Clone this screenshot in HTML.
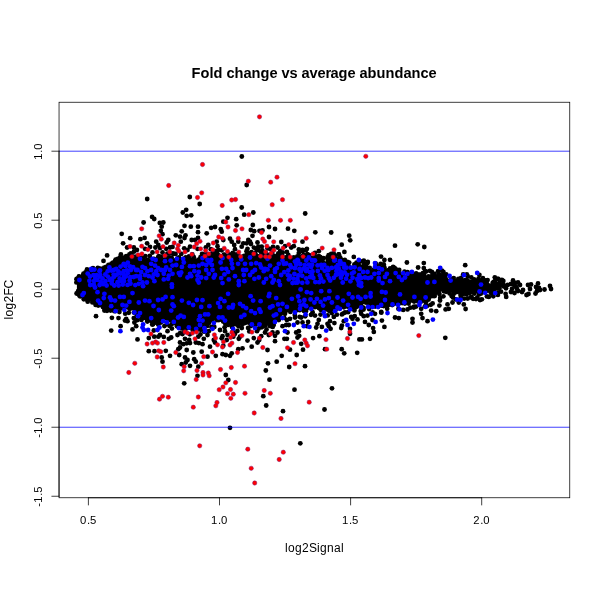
<!DOCTYPE html>
<html><head><meta charset="utf-8"><style>
html,body{margin:0;padding:0;background:#fff;width:600px;height:600px;overflow:hidden}
svg{display:block;will-change:transform}
text{font-family:"Liberation Sans", sans-serif;fill:#000}
</style></head><body>
<svg width="600" height="600" viewBox="0 0 600 600">
<rect x="0" y="0" width="600" height="600" fill="#fff"/>
<polygon points="76.9,283.0 78.0,279.0 82.5,274.4 88.1,270.6 97.5,268.3 105.0,267.1 112.5,263.4 117.5,258.9 122.5,257.4 127.5,255.3 135.0,256.5 140.0,260.4 146.2,260.4 151.2,259.8 157.5,257.2 163.8,258.5 170.0,258.5 176.2,257.9 182.5,258.5 190.0,257.2 197.5,258.5 205.0,256.0 217.5,252.2 222.5,254.8 235.0,253.5 241.2,258.5 247.5,253.5 253.8,252.2 260.0,254.8 266.2,252.2 275.0,258.5 280.0,253.5 290.0,258.5 297.5,256.0 302.5,253.5 310.0,256.0 318.8,256.0 322.5,264.8 327.5,259.8 332.5,256.0 340.0,257.2 343.8,264.8 350.0,267.2 355.0,268.5 360.0,264.8 365.0,263.5 372.5,269.8 380.0,267.2 385.0,271.0 392.5,269.8 397.5,273.5 403.8,274.8 412.5,273.5 417.5,272.2 422.5,272.2 427.5,276.0 435.0,274.8 438.8,273.5 442.5,274.8 447.5,278.5 453.8,281.0 457.5,278.5 462.5,278.5 467.5,277.2 471.2,281.0 480.0,278.5 487.5,282.2 492.5,284.8 496.2,282.2 502.5,283.5 510.0,286.0 510.0,284.5 507.5,285.5 502.5,286.8 497.5,289.2 491.2,291.8 485.0,293.0 478.8,294.2 472.5,291.8 466.2,293.6 460.0,294.2 453.8,293.0 447.5,292.4 442.5,290.5 438.8,293.5 430.0,299.5 425.0,303.0 417.5,301.8 410.0,303.0 402.5,304.2 395.0,304.2 387.5,308.0 380.0,306.8 372.5,306.8 365.0,303.0 360.0,307.5 355.0,310.5 347.5,308.0 340.0,309.2 332.5,313.0 325.0,310.5 317.5,308.0 310.0,309.2 303.8,311.8 297.5,310.5 290.0,311.8 285.0,313.5 280.0,316.8 275.0,321.8 268.8,325.5 262.5,323.0 256.2,325.5 250.0,325.5 243.8,323.0 237.5,326.8 228.8,325.5 222.5,323.0 216.2,319.2 210.0,323.5 205.0,328.0 197.5,330.5 190.0,329.2 185.0,331.8 178.8,328.0 172.5,324.2 166.2,319.2 160.0,323.0 153.8,325.5 146.2,320.5 140.0,319.2 135.0,312.5 132.5,309.5 125.0,309.1 116.2,310.1 110.0,308.3 102.5,307.9 97.5,306.0 91.2,301.9 85.0,298.8 80.0,297.0 76.9,292.0" fill="#000"/>
<g fill="#000"><circle cx="76.4" cy="282.4" r="2.4"/><circle cx="76.7" cy="279.3" r="2.4"/><circle cx="76.7" cy="279.0" r="2.4"/><circle cx="78.9" cy="276.8" r="2.4"/><circle cx="79.0" cy="276.5" r="2.4"/><circle cx="83.5" cy="273.7" r="2.4"/><circle cx="82.9" cy="275.7" r="2.4"/><circle cx="85.5" cy="272.5" r="2.4"/><circle cx="86.7" cy="271.7" r="2.4"/><circle cx="87.0" cy="269.5" r="2.4"/><circle cx="90.7" cy="270.8" r="2.4"/><circle cx="91.5" cy="270.2" r="2.4"/><circle cx="94.0" cy="269.3" r="2.4"/><circle cx="93.0" cy="268.1" r="2.4"/><circle cx="98.0" cy="268.4" r="2.4"/><circle cx="97.8" cy="268.0" r="2.4"/><circle cx="100.6" cy="268.7" r="2.4"/><circle cx="104.2" cy="267.6" r="2.4"/><circle cx="106.1" cy="266.9" r="2.4"/><circle cx="108.1" cy="266.7" r="2.4"/><circle cx="108.5" cy="264.8" r="2.4"/><circle cx="111.5" cy="263.7" r="2.4"/><circle cx="113.0" cy="262.7" r="2.4"/><circle cx="115.2" cy="262.3" r="2.4"/><circle cx="115.6" cy="259.7" r="2.4"/><circle cx="117.7" cy="259.0" r="2.4"/><circle cx="123.8" cy="257.6" r="2.4"/><circle cx="126.2" cy="256.1" r="2.4"/><circle cx="132.7" cy="257.0" r="2.4"/><circle cx="130.9" cy="253.3" r="2.4"/><circle cx="133.6" cy="256.7" r="2.4"/><circle cx="133.9" cy="251.7" r="2.4"/><circle cx="138.3" cy="257.8" r="2.4"/><circle cx="137.2" cy="256.1" r="2.4"/><circle cx="138.7" cy="260.5" r="2.4"/><circle cx="141.2" cy="257.9" r="2.4"/><circle cx="144.2" cy="260.1" r="2.4"/><circle cx="142.7" cy="258.1" r="2.4"/><circle cx="147.6" cy="259.8" r="2.4"/><circle cx="145.4" cy="256.1" r="2.4"/><circle cx="151.2" cy="260.2" r="2.4"/><circle cx="149.8" cy="256.0" r="2.4"/><circle cx="154.0" cy="258.9" r="2.4"/><circle cx="158.1" cy="257.5" r="2.4"/><circle cx="161.2" cy="257.0" r="2.4"/><circle cx="164.6" cy="259.7" r="2.4"/><circle cx="166.6" cy="258.5" r="2.4"/><circle cx="167.3" cy="253.7" r="2.4"/><circle cx="168.7" cy="258.0" r="2.4"/><circle cx="169.5" cy="253.7" r="2.4"/><circle cx="171.6" cy="257.6" r="2.4"/><circle cx="172.7" cy="253.3" r="2.4"/><circle cx="177.4" cy="258.4" r="2.4"/><circle cx="175.5" cy="253.9" r="2.4"/><circle cx="179.0" cy="257.5" r="2.4"/><circle cx="184.0" cy="258.7" r="2.4"/><circle cx="181.3" cy="253.8" r="2.4"/><circle cx="185.8" cy="257.5" r="2.4"/><circle cx="189.0" cy="256.3" r="2.4"/><circle cx="193.8" cy="257.2" r="2.4"/><circle cx="192.3" cy="254.5" r="2.4"/><circle cx="198.9" cy="259.7" r="2.4"/><circle cx="200.5" cy="257.2" r="2.4"/><circle cx="202.1" cy="253.8" r="2.4"/><circle cx="205.8" cy="255.8" r="2.4"/><circle cx="205.9" cy="254.0" r="2.4"/><circle cx="209.2" cy="256.1" r="2.4"/><circle cx="212.0" cy="253.7" r="2.4"/><circle cx="210.8" cy="249.2" r="2.4"/><circle cx="213.0" cy="252.9" r="2.4"/><circle cx="215.0" cy="251.1" r="2.4"/><circle cx="217.3" cy="253.6" r="2.4"/><circle cx="223.9" cy="254.7" r="2.4"/><circle cx="221.7" cy="250.3" r="2.4"/><circle cx="224.7" cy="255.0" r="2.4"/><circle cx="229.8" cy="254.3" r="2.4"/><circle cx="232.8" cy="253.0" r="2.4"/><circle cx="236.2" cy="254.5" r="2.4"/><circle cx="238.1" cy="255.4" r="2.4"/><circle cx="240.7" cy="259.5" r="2.4"/><circle cx="244.1" cy="256.0" r="2.4"/><circle cx="248.2" cy="252.9" r="2.4"/><circle cx="246.5" cy="251.2" r="2.4"/><circle cx="251.5" cy="252.2" r="2.4"/><circle cx="255.2" cy="252.9" r="2.4"/><circle cx="253.9" cy="247.6" r="2.4"/><circle cx="255.4" cy="254.9" r="2.4"/><circle cx="260.1" cy="256.1" r="2.4"/><circle cx="261.1" cy="252.2" r="2.4"/><circle cx="262.3" cy="253.1" r="2.4"/><circle cx="262.3" cy="250.3" r="2.4"/><circle cx="265.5" cy="252.3" r="2.4"/><circle cx="267.5" cy="248.3" r="2.4"/><circle cx="269.0" cy="254.8" r="2.4"/><circle cx="271.8" cy="257.7" r="2.4"/><circle cx="272.2" cy="253.0" r="2.4"/><circle cx="273.6" cy="258.6" r="2.4"/><circle cx="273.5" cy="255.9" r="2.4"/><circle cx="276.5" cy="256.2" r="2.4"/><circle cx="280.2" cy="253.3" r="2.4"/><circle cx="280.2" cy="250.9" r="2.4"/><circle cx="282.2" cy="255.6" r="2.4"/><circle cx="282.7" cy="252.5" r="2.4"/><circle cx="286.7" cy="257.2" r="2.4"/><circle cx="291.2" cy="258.6" r="2.4"/><circle cx="293.8" cy="257.5" r="2.4"/><circle cx="297.4" cy="256.3" r="2.4"/><circle cx="298.8" cy="253.1" r="2.4"/><circle cx="303.6" cy="254.9" r="2.4"/><circle cx="302.7" cy="251.3" r="2.4"/><circle cx="307.3" cy="254.1" r="2.4"/><circle cx="306.1" cy="250.0" r="2.4"/><circle cx="309.2" cy="255.2" r="2.4"/><circle cx="315.2" cy="257.2" r="2.4"/><circle cx="315.0" cy="253.0" r="2.4"/><circle cx="317.7" cy="257.2" r="2.4"/><circle cx="319.2" cy="260.3" r="2.4"/><circle cx="320.0" cy="256.9" r="2.4"/><circle cx="322.2" cy="261.2" r="2.4"/><circle cx="321.3" cy="257.9" r="2.4"/><circle cx="321.6" cy="264.5" r="2.4"/><circle cx="323.6" cy="262.6" r="2.4"/><circle cx="323.6" cy="258.2" r="2.4"/><circle cx="327.9" cy="260.0" r="2.4"/><circle cx="329.0" cy="257.1" r="2.4"/><circle cx="331.4" cy="257.1" r="2.4"/><circle cx="328.6" cy="255.2" r="2.4"/><circle cx="331.8" cy="255.3" r="2.4"/><circle cx="333.7" cy="253.5" r="2.4"/><circle cx="335.5" cy="256.0" r="2.4"/><circle cx="340.2" cy="258.0" r="2.4"/><circle cx="338.7" cy="254.3" r="2.4"/><circle cx="341.7" cy="260.2" r="2.4"/><circle cx="344.2" cy="265.8" r="2.4"/><circle cx="344.8" cy="259.9" r="2.4"/><circle cx="348.0" cy="266.1" r="2.4"/><circle cx="347.0" cy="263.8" r="2.4"/><circle cx="349.3" cy="266.6" r="2.4"/><circle cx="349.2" cy="262.6" r="2.4"/><circle cx="354.0" cy="267.6" r="2.4"/><circle cx="354.4" cy="264.4" r="2.4"/><circle cx="358.3" cy="266.3" r="2.4"/><circle cx="356.5" cy="262.7" r="2.4"/><circle cx="358.6" cy="264.4" r="2.4"/><circle cx="360.7" cy="261.4" r="2.4"/><circle cx="364.1" cy="263.7" r="2.4"/><circle cx="366.3" cy="266.6" r="2.4"/><circle cx="367.5" cy="263.1" r="2.4"/><circle cx="369.7" cy="267.9" r="2.4"/><circle cx="373.9" cy="269.6" r="2.4"/><circle cx="376.9" cy="269.1" r="2.4"/><circle cx="375.8" cy="263.7" r="2.4"/><circle cx="378.9" cy="266.4" r="2.4"/><circle cx="381.8" cy="268.5" r="2.4"/><circle cx="383.5" cy="266.7" r="2.4"/><circle cx="385.5" cy="270.7" r="2.4"/><circle cx="384.4" cy="267.4" r="2.4"/><circle cx="387.7" cy="270.5" r="2.4"/><circle cx="390.1" cy="268.3" r="2.4"/><circle cx="392.6" cy="269.4" r="2.4"/><circle cx="394.4" cy="271.5" r="2.4"/><circle cx="394.6" cy="268.0" r="2.4"/><circle cx="397.5" cy="273.0" r="2.4"/><circle cx="396.0" cy="269.3" r="2.4"/><circle cx="399.4" cy="274.1" r="2.4"/><circle cx="399.2" cy="270.0" r="2.4"/><circle cx="402.9" cy="275.2" r="2.4"/><circle cx="404.5" cy="271.7" r="2.4"/><circle cx="408.8" cy="275.3" r="2.4"/><circle cx="407.6" cy="272.1" r="2.4"/><circle cx="411.4" cy="274.3" r="2.4"/><circle cx="416.1" cy="273.3" r="2.4"/><circle cx="422.9" cy="273.1" r="2.4"/><circle cx="423.9" cy="274.4" r="2.4"/><circle cx="426.0" cy="271.5" r="2.4"/><circle cx="428.5" cy="276.5" r="2.4"/><circle cx="431.8" cy="276.1" r="2.4"/><circle cx="429.8" cy="270.8" r="2.4"/><circle cx="434.6" cy="274.0" r="2.4"/><circle cx="438.9" cy="274.1" r="2.4"/><circle cx="443.0" cy="275.0" r="2.4"/><circle cx="443.4" cy="272.0" r="2.4"/><circle cx="445.0" cy="277.0" r="2.4"/><circle cx="446.2" cy="279.3" r="2.4"/><circle cx="446.2" cy="274.3" r="2.4"/><circle cx="451.3" cy="279.3" r="2.4"/><circle cx="455.2" cy="281.2" r="2.4"/><circle cx="453.7" cy="278.1" r="2.4"/><circle cx="458.3" cy="279.0" r="2.4"/><circle cx="461.2" cy="277.9" r="2.4"/><circle cx="463.2" cy="274.4" r="2.4"/><circle cx="467.7" cy="276.3" r="2.4"/><circle cx="466.8" cy="274.3" r="2.4"/><circle cx="471.8" cy="281.7" r="2.4"/><circle cx="471.3" cy="277.4" r="2.4"/><circle cx="474.1" cy="279.5" r="2.4"/><circle cx="476.2" cy="280.8" r="2.4"/><circle cx="478.6" cy="278.6" r="2.4"/><circle cx="485.2" cy="280.5" r="2.4"/><circle cx="482.9" cy="278.2" r="2.4"/><circle cx="486.6" cy="282.7" r="2.4"/><circle cx="487.6" cy="280.1" r="2.4"/><circle cx="491.4" cy="285.8" r="2.4"/><circle cx="493.7" cy="281.9" r="2.4"/><circle cx="495.4" cy="283.5" r="2.4"/><circle cx="494.8" cy="277.3" r="2.4"/><circle cx="499.4" cy="283.0" r="2.4"/><circle cx="498.3" cy="278.9" r="2.4"/><circle cx="501.9" cy="284.6" r="2.4"/><circle cx="503.3" cy="281.0" r="2.4"/><circle cx="505.1" cy="286.1" r="2.4"/><circle cx="78.1" cy="291.2" r="2.4"/><circle cx="76.6" cy="293.5" r="2.4"/><circle cx="80.3" cy="296.4" r="2.4"/><circle cx="79.3" cy="295.6" r="2.4"/><circle cx="83.8" cy="299.3" r="2.4"/><circle cx="86.3" cy="298.0" r="2.4"/><circle cx="87.4" cy="300.1" r="2.4"/><circle cx="87.7" cy="301.7" r="2.4"/><circle cx="92.4" cy="302.4" r="2.4"/><circle cx="95.6" cy="304.9" r="2.4"/><circle cx="95.0" cy="302.7" r="2.4"/><circle cx="98.2" cy="305.6" r="2.4"/><circle cx="102.9" cy="307.1" r="2.4"/><circle cx="103.8" cy="307.6" r="2.4"/><circle cx="106.2" cy="307.5" r="2.4"/><circle cx="107.0" cy="310.8" r="2.4"/><circle cx="109.3" cy="308.5" r="2.4"/><circle cx="110.2" cy="309.7" r="2.4"/><circle cx="112.1" cy="308.1" r="2.4"/><circle cx="114.3" cy="311.2" r="2.4"/><circle cx="115.4" cy="310.9" r="2.4"/><circle cx="120.5" cy="308.5" r="2.4"/><circle cx="119.4" cy="312.0" r="2.4"/><circle cx="123.8" cy="308.2" r="2.4"/><circle cx="125.2" cy="313.7" r="2.4"/><circle cx="129.5" cy="308.9" r="2.4"/><circle cx="128.8" cy="312.8" r="2.4"/><circle cx="132.0" cy="308.2" r="2.4"/><circle cx="133.9" cy="312.6" r="2.4"/><circle cx="135.0" cy="312.6" r="2.4"/><circle cx="136.6" cy="315.1" r="2.4"/><circle cx="137.2" cy="320.2" r="2.4"/><circle cx="141.4" cy="319.9" r="2.4"/><circle cx="141.7" cy="318.5" r="2.4"/><circle cx="147.4" cy="320.2" r="2.4"/><circle cx="147.3" cy="321.6" r="2.4"/><circle cx="152.2" cy="324.5" r="2.4"/><circle cx="153.0" cy="324.3" r="2.4"/><circle cx="153.8" cy="330.5" r="2.4"/><circle cx="158.2" cy="324.6" r="2.4"/><circle cx="160.8" cy="322.6" r="2.4"/><circle cx="161.7" cy="321.6" r="2.4"/><circle cx="164.4" cy="326.1" r="2.4"/><circle cx="165.7" cy="318.1" r="2.4"/><circle cx="166.7" cy="324.3" r="2.4"/><circle cx="168.2" cy="320.4" r="2.4"/><circle cx="169.6" cy="325.9" r="2.4"/><circle cx="171.7" cy="324.3" r="2.4"/><circle cx="171.9" cy="328.6" r="2.4"/><circle cx="177.0" cy="326.2" r="2.4"/><circle cx="178.7" cy="327.1" r="2.4"/><circle cx="180.1" cy="333.1" r="2.4"/><circle cx="181.3" cy="328.4" r="2.4"/><circle cx="182.4" cy="334.1" r="2.4"/><circle cx="184.3" cy="331.9" r="2.4"/><circle cx="189.2" cy="327.8" r="2.4"/><circle cx="189.8" cy="334.3" r="2.4"/><circle cx="192.8" cy="330.4" r="2.4"/><circle cx="197.5" cy="329.5" r="2.4"/><circle cx="200.7" cy="329.8" r="2.4"/><circle cx="200.4" cy="334.5" r="2.4"/><circle cx="204.4" cy="328.9" r="2.4"/><circle cx="204.1" cy="331.7" r="2.4"/><circle cx="207.3" cy="325.9" r="2.4"/><circle cx="208.9" cy="323.0" r="2.4"/><circle cx="211.4" cy="326.9" r="2.4"/><circle cx="211.8" cy="320.0" r="2.4"/><circle cx="214.3" cy="327.0" r="2.4"/><circle cx="216.9" cy="320.2" r="2.4"/><circle cx="218.9" cy="320.1" r="2.4"/><circle cx="223.2" cy="321.6" r="2.4"/><circle cx="225.3" cy="323.7" r="2.4"/><circle cx="224.6" cy="327.3" r="2.4"/><circle cx="228.1" cy="324.9" r="2.4"/><circle cx="232.0" cy="327.0" r="2.4"/><circle cx="232.7" cy="331.6" r="2.4"/><circle cx="238.5" cy="326.3" r="2.4"/><circle cx="237.4" cy="330.9" r="2.4"/><circle cx="241.9" cy="323.9" r="2.4"/><circle cx="241.8" cy="328.0" r="2.4"/><circle cx="243.5" cy="323.5" r="2.4"/><circle cx="245.5" cy="322.8" r="2.4"/><circle cx="248.1" cy="328.0" r="2.4"/><circle cx="250.7" cy="326.2" r="2.4"/><circle cx="249.3" cy="331.4" r="2.4"/><circle cx="253.5" cy="324.7" r="2.4"/><circle cx="255.7" cy="324.7" r="2.4"/><circle cx="257.0" cy="331.2" r="2.4"/><circle cx="259.8" cy="325.1" r="2.4"/><circle cx="258.6" cy="328.7" r="2.4"/><circle cx="263.9" cy="323.9" r="2.4"/><circle cx="261.8" cy="327.3" r="2.4"/><circle cx="265.6" cy="325.1" r="2.4"/><circle cx="266.5" cy="329.5" r="2.4"/><circle cx="269.7" cy="325.9" r="2.4"/><circle cx="271.4" cy="322.9" r="2.4"/><circle cx="272.7" cy="326.9" r="2.4"/><circle cx="274.1" cy="322.1" r="2.4"/><circle cx="273.7" cy="324.9" r="2.4"/><circle cx="277.7" cy="318.6" r="2.4"/><circle cx="281.2" cy="317.7" r="2.4"/><circle cx="278.8" cy="320.0" r="2.4"/><circle cx="285.0" cy="313.8" r="2.4"/><circle cx="284.2" cy="317.8" r="2.4"/><circle cx="290.4" cy="311.9" r="2.4"/><circle cx="294.8" cy="311.3" r="2.4"/><circle cx="294.8" cy="315.0" r="2.4"/><circle cx="297.7" cy="309.9" r="2.4"/><circle cx="299.7" cy="310.2" r="2.4"/><circle cx="299.6" cy="316.8" r="2.4"/><circle cx="304.0" cy="311.1" r="2.4"/><circle cx="305.2" cy="316.3" r="2.4"/><circle cx="306.1" cy="311.0" r="2.4"/><circle cx="311.5" cy="308.0" r="2.4"/><circle cx="311.0" cy="314.8" r="2.4"/><circle cx="315.0" cy="307.2" r="2.4"/><circle cx="312.6" cy="312.2" r="2.4"/><circle cx="318.9" cy="308.0" r="2.4"/><circle cx="320.9" cy="309.9" r="2.4"/><circle cx="320.5" cy="314.6" r="2.4"/><circle cx="326.3" cy="309.3" r="2.4"/><circle cx="329.1" cy="310.8" r="2.4"/><circle cx="327.7" cy="315.4" r="2.4"/><circle cx="331.8" cy="313.0" r="2.4"/><circle cx="335.4" cy="309.7" r="2.4"/><circle cx="336.8" cy="314.7" r="2.4"/><circle cx="339.4" cy="308.3" r="2.4"/><circle cx="343.9" cy="307.3" r="2.4"/><circle cx="343.4" cy="313.3" r="2.4"/><circle cx="347.9" cy="306.7" r="2.4"/><circle cx="348.1" cy="312.2" r="2.4"/><circle cx="350.6" cy="308.5" r="2.4"/><circle cx="354.4" cy="310.4" r="2.4"/><circle cx="354.7" cy="316.1" r="2.4"/><circle cx="361.5" cy="306.9" r="2.4"/><circle cx="360.7" cy="311.1" r="2.4"/><circle cx="361.0" cy="306.0" r="2.4"/><circle cx="363.5" cy="309.5" r="2.4"/><circle cx="366.1" cy="302.7" r="2.4"/><circle cx="363.5" cy="307.7" r="2.4"/><circle cx="369.2" cy="305.6" r="2.4"/><circle cx="369.1" cy="309.0" r="2.4"/><circle cx="372.5" cy="305.6" r="2.4"/><circle cx="372.6" cy="312.5" r="2.4"/><circle cx="375.1" cy="306.5" r="2.4"/><circle cx="381.4" cy="305.7" r="2.4"/><circle cx="381.3" cy="312.7" r="2.4"/><circle cx="383.7" cy="306.0" r="2.4"/><circle cx="387.2" cy="308.8" r="2.4"/><circle cx="392.2" cy="305.0" r="2.4"/><circle cx="394.2" cy="303.8" r="2.4"/><circle cx="399.7" cy="303.2" r="2.4"/><circle cx="398.4" cy="308.8" r="2.4"/><circle cx="402.2" cy="303.1" r="2.4"/><circle cx="403.2" cy="309.9" r="2.4"/><circle cx="404.9" cy="303.5" r="2.4"/><circle cx="408.6" cy="303.6" r="2.4"/><circle cx="410.3" cy="307.7" r="2.4"/><circle cx="414.1" cy="301.6" r="2.4"/><circle cx="414.0" cy="306.7" r="2.4"/><circle cx="418.0" cy="301.4" r="2.4"/><circle cx="416.1" cy="306.6" r="2.4"/><circle cx="421.2" cy="301.5" r="2.4"/><circle cx="425.8" cy="302.6" r="2.4"/><circle cx="424.9" cy="306.3" r="2.4"/><circle cx="426.4" cy="300.8" r="2.4"/><circle cx="427.3" cy="305.8" r="2.4"/><circle cx="428.6" cy="299.6" r="2.4"/><circle cx="430.7" cy="304.8" r="2.4"/><circle cx="433.0" cy="296.1" r="2.4"/><circle cx="432.6" cy="303.4" r="2.4"/><circle cx="434.7" cy="296.1" r="2.4"/><circle cx="439.4" cy="294.0" r="2.4"/><circle cx="440.2" cy="298.0" r="2.4"/><circle cx="443.9" cy="291.3" r="2.4"/><circle cx="443.4" cy="296.3" r="2.4"/><circle cx="446.2" cy="291.8" r="2.4"/><circle cx="449.6" cy="293.4" r="2.4"/><circle cx="451.6" cy="296.1" r="2.4"/><circle cx="453.8" cy="293.8" r="2.4"/><circle cx="453.0" cy="297.5" r="2.4"/><circle cx="456.3" cy="292.2" r="2.4"/><circle cx="455.9" cy="299.4" r="2.4"/><circle cx="460.5" cy="295.0" r="2.4"/><circle cx="460.9" cy="297.6" r="2.4"/><circle cx="463.2" cy="294.0" r="2.4"/><circle cx="464.2" cy="298.6" r="2.4"/><circle cx="466.5" cy="294.3" r="2.4"/><circle cx="467.7" cy="298.5" r="2.4"/><circle cx="469.1" cy="293.2" r="2.4"/><circle cx="470.8" cy="297.4" r="2.4"/><circle cx="472.1" cy="292.2" r="2.4"/><circle cx="471.5" cy="297.0" r="2.4"/><circle cx="474.3" cy="293.5" r="2.4"/><circle cx="476.0" cy="299.0" r="2.4"/><circle cx="479.0" cy="294.4" r="2.4"/><circle cx="477.3" cy="297.4" r="2.4"/><circle cx="480.8" cy="293.7" r="2.4"/><circle cx="481.9" cy="299.3" r="2.4"/><circle cx="483.9" cy="292.1" r="2.4"/><circle cx="486.7" cy="290.9" r="2.4"/><circle cx="486.9" cy="296.4" r="2.4"/><circle cx="490.4" cy="291.7" r="2.4"/><circle cx="493.5" cy="290.6" r="2.4"/><circle cx="493.3" cy="296.3" r="2.4"/><circle cx="496.7" cy="288.1" r="2.4"/><circle cx="497.9" cy="294.9" r="2.4"/><circle cx="503.3" cy="286.3" r="2.4"/><circle cx="501.0" cy="291.7" r="2.4"/><circle cx="507.7" cy="284.9" r="2.4"/></g>
<g fill="#000"><circle cx="241.8" cy="156.5" r="2.4"/><circle cx="147.2" cy="199.0" r="2.4"/><circle cx="189.8" cy="197.0" r="2.4"/><circle cx="199.7" cy="204.0" r="2.4"/><circle cx="186.2" cy="209.8" r="2.4"/><circle cx="246.7" cy="185.0" r="2.4"/><circle cx="395.0" cy="245.7" r="2.4"/><circle cx="417.7" cy="244.3" r="2.4"/><circle cx="424.3" cy="247.0" r="2.4"/><circle cx="305.2" cy="213.5" r="2.4"/><circle cx="288.0" cy="228.7" r="2.4"/><circle cx="294.3" cy="230.8" r="2.4"/><circle cx="315.3" cy="232.3" r="2.4"/><circle cx="331.2" cy="232.5" r="2.4"/><circle cx="349.2" cy="235.7" r="2.4"/><circle cx="350.2" cy="240.3" r="2.4"/><circle cx="302.5" cy="241.7" r="2.4"/><circle cx="281.3" cy="242.0" r="2.4"/><circle cx="341.7" cy="244.7" r="2.4"/><circle cx="152.1" cy="216.9" r="2.4"/><circle cx="154.2" cy="219.0" r="2.4"/><circle cx="143.6" cy="222.5" r="2.4"/><circle cx="159.8" cy="222.9" r="2.4"/><circle cx="121.7" cy="233.8" r="2.4"/><circle cx="130.2" cy="238.2" r="2.4"/><circle cx="140.4" cy="239.2" r="2.4"/><circle cx="144.6" cy="237.9" r="2.4"/><circle cx="123.1" cy="243.3" r="2.4"/><circle cx="147.1" cy="243.3" r="2.4"/><circle cx="133.8" cy="247.5" r="2.4"/><circle cx="127.1" cy="247.5" r="2.4"/><circle cx="156.2" cy="241.7" r="2.4"/><circle cx="155.4" cy="247.5" r="2.4"/><circle cx="158.3" cy="245.0" r="2.4"/><circle cx="182.8" cy="212.5" r="2.4"/><circle cx="186.7" cy="215.8" r="2.4"/><circle cx="191.2" cy="215.3" r="2.4"/><circle cx="241.7" cy="207.5" r="2.4"/><circle cx="244.2" cy="214.7" r="2.4"/><circle cx="253.3" cy="212.5" r="2.4"/><circle cx="227.5" cy="217.8" r="2.4"/><circle cx="236.2" cy="219.2" r="2.4"/><circle cx="223.3" cy="221.7" r="2.4"/><circle cx="236.7" cy="225.3" r="2.4"/><circle cx="252.8" cy="225.0" r="2.4"/><circle cx="184.5" cy="225.8" r="2.4"/><circle cx="190.8" cy="226.7" r="2.4"/><circle cx="198.0" cy="226.7" r="2.4"/><circle cx="211.2" cy="227.8" r="2.4"/><circle cx="215.0" cy="227.0" r="2.4"/><circle cx="220.8" cy="229.2" r="2.4"/><circle cx="221.7" cy="231.7" r="2.4"/><circle cx="250.8" cy="230.0" r="2.4"/><circle cx="254.2" cy="231.2" r="2.4"/><circle cx="259.5" cy="230.8" r="2.4"/><circle cx="163.3" cy="222.5" r="2.4"/><circle cx="161.7" cy="226.7" r="2.4"/><circle cx="160.8" cy="230.8" r="2.4"/><circle cx="162.5" cy="234.2" r="2.4"/><circle cx="181.7" cy="231.3" r="2.4"/><circle cx="198.0" cy="232.2" r="2.4"/><circle cx="206.7" cy="233.3" r="2.4"/><circle cx="175.8" cy="235.3" r="2.4"/><circle cx="180.0" cy="236.7" r="2.4"/><circle cx="185.5" cy="235.3" r="2.4"/><circle cx="184.5" cy="238.0" r="2.4"/><circle cx="198.0" cy="238.0" r="2.4"/><circle cx="230.0" cy="238.7" r="2.4"/><circle cx="252.5" cy="235.8" r="2.4"/><circle cx="248.3" cy="240.0" r="2.4"/><circle cx="257.5" cy="242.5" r="2.4"/><circle cx="168.3" cy="240.0" r="2.4"/><circle cx="191.7" cy="240.0" r="2.4"/><circle cx="195.0" cy="240.0" r="2.4"/><circle cx="180.8" cy="241.7" r="2.4"/><circle cx="166.7" cy="242.5" r="2.4"/><circle cx="216.7" cy="241.7" r="2.4"/><circle cx="231.7" cy="241.7" r="2.4"/><circle cx="234.2" cy="245.0" r="2.4"/><circle cx="243.3" cy="243.3" r="2.4"/><circle cx="246.7" cy="243.3" r="2.4"/><circle cx="258.3" cy="246.7" r="2.4"/><circle cx="208.3" cy="245.0" r="2.4"/><circle cx="205.8" cy="247.5" r="2.4"/><circle cx="190.0" cy="246.7" r="2.4"/><circle cx="184.2" cy="248.3" r="2.4"/><circle cx="170.0" cy="247.5" r="2.4"/><circle cx="107.1" cy="255.4" r="2.4"/><circle cx="103.5" cy="260.9" r="2.4"/><circle cx="120.9" cy="254.4" r="2.4"/><circle cx="120.0" cy="257.5" r="2.4"/><circle cx="126.2" cy="257.1" r="2.4"/><circle cx="129.4" cy="254.4" r="2.4"/><circle cx="115.0" cy="261.2" r="2.4"/><circle cx="150.0" cy="246.9" r="2.4"/><circle cx="160.0" cy="248.1" r="2.4"/><circle cx="166.2" cy="248.8" r="2.4"/><circle cx="172.5" cy="246.9" r="2.4"/><circle cx="187.5" cy="250.0" r="2.4"/><circle cx="197.5" cy="248.8" r="2.4"/><circle cx="136.9" cy="250.0" r="2.4"/><circle cx="145.0" cy="248.8" r="2.4"/><circle cx="152.5" cy="252.5" r="2.4"/><circle cx="158.8" cy="256.2" r="2.4"/><circle cx="162.5" cy="252.5" r="2.4"/><circle cx="173.8" cy="253.8" r="2.4"/><circle cx="217.5" cy="246.2" r="2.4"/><circle cx="247.5" cy="248.8" r="2.4"/><circle cx="256.2" cy="248.8" r="2.4"/><circle cx="277.5" cy="247.5" r="2.4"/><circle cx="270.0" cy="248.8" r="2.4"/><circle cx="285.0" cy="246.2" r="2.4"/><circle cx="286.9" cy="251.9" r="2.4"/><circle cx="291.2" cy="247.5" r="2.4"/><circle cx="293.8" cy="246.2" r="2.4"/><circle cx="298.8" cy="249.4" r="2.4"/><circle cx="302.5" cy="250.0" r="2.4"/><circle cx="306.9" cy="248.8" r="2.4"/><circle cx="318.8" cy="251.2" r="2.4"/><circle cx="318.8" cy="256.2" r="2.4"/><circle cx="327.5" cy="257.5" r="2.4"/><circle cx="331.2" cy="253.8" r="2.4"/><circle cx="338.8" cy="254.4" r="2.4"/><circle cx="340.0" cy="257.5" r="2.4"/><circle cx="344.4" cy="251.9" r="2.4"/><circle cx="353.8" cy="256.9" r="2.4"/><circle cx="347.5" cy="261.9" r="2.4"/><circle cx="381.0" cy="256.6" r="2.4"/><circle cx="384.4" cy="260.0" r="2.4"/><circle cx="390.0" cy="259.8" r="2.4"/><circle cx="367.8" cy="261.9" r="2.4"/><circle cx="406.9" cy="262.5" r="2.4"/><circle cx="423.8" cy="263.1" r="2.4"/><circle cx="418.1" cy="267.5" r="2.4"/><circle cx="423.8" cy="268.1" r="2.4"/><circle cx="425.0" cy="271.2" r="2.4"/><circle cx="431.9" cy="271.9" r="2.4"/><circle cx="393.1" cy="266.9" r="2.4"/><circle cx="383.8" cy="264.4" r="2.4"/><circle cx="380.6" cy="263.8" r="2.4"/><circle cx="363.8" cy="260.6" r="2.4"/><circle cx="465.2" cy="265.2" r="2.4"/><circle cx="441.9" cy="270.6" r="2.4"/><circle cx="438.1" cy="271.2" r="2.4"/><circle cx="479.4" cy="275.0" r="2.4"/><circle cx="497.5" cy="278.8" r="2.4"/><circle cx="501.9" cy="280.0" r="2.4"/><circle cx="513.0" cy="280.5" r="2.4"/><circle cx="511.0" cy="284.0" r="2.4"/><circle cx="515.0" cy="283.0" r="2.4"/><circle cx="518.0" cy="282.5" r="2.4"/><circle cx="520.0" cy="285.0" r="2.4"/><circle cx="516.0" cy="287.0" r="2.4"/><circle cx="512.0" cy="289.0" r="2.4"/><circle cx="514.5" cy="293.0" r="2.4"/><circle cx="518.0" cy="291.0" r="2.4"/><circle cx="523.0" cy="290.0" r="2.4"/><circle cx="522.0" cy="292.0" r="2.4"/><circle cx="528.0" cy="285.0" r="2.4"/><circle cx="531.0" cy="284.5" r="2.4"/><circle cx="530.0" cy="289.0" r="2.4"/><circle cx="526.5" cy="295.0" r="2.4"/><circle cx="528.5" cy="294.0" r="2.4"/><circle cx="538.0" cy="283.5" r="2.4"/><circle cx="536.0" cy="287.0" r="2.4"/><circle cx="539.0" cy="288.0" r="2.4"/><circle cx="537.0" cy="291.0" r="2.4"/><circle cx="535.5" cy="293.5" r="2.4"/><circle cx="540.0" cy="290.0" r="2.4"/><circle cx="544.5" cy="289.5" r="2.4"/><circle cx="550.0" cy="286.0" r="2.4"/><circle cx="551.0" cy="289.0" r="2.4"/><circle cx="514.0" cy="285.0" r="2.4"/><circle cx="517.0" cy="289.0" r="2.4"/><circle cx="511.0" cy="292.0" r="2.4"/><circle cx="83.8" cy="297.5" r="2.4"/><circle cx="92.5" cy="300.0" r="2.4"/><circle cx="104.4" cy="310.6" r="2.4"/><circle cx="110.6" cy="310.6" r="2.4"/><circle cx="96.0" cy="316.2" r="2.4"/><circle cx="111.9" cy="317.8" r="2.4"/><circle cx="118.5" cy="318.1" r="2.4"/><circle cx="126.2" cy="318.8" r="2.4"/><circle cx="127.5" cy="321.2" r="2.4"/><circle cx="125.0" cy="320.6" r="2.4"/><circle cx="133.8" cy="318.1" r="2.4"/><circle cx="134.4" cy="322.5" r="2.4"/><circle cx="120.6" cy="326.2" r="2.4"/><circle cx="111.2" cy="330.6" r="2.4"/><circle cx="132.5" cy="329.4" r="2.4"/><circle cx="137.5" cy="339.4" r="2.4"/><circle cx="148.8" cy="338.1" r="2.4"/><circle cx="160.0" cy="335.0" r="2.4"/><circle cx="163.8" cy="336.9" r="2.4"/><circle cx="168.8" cy="338.8" r="2.4"/><circle cx="171.2" cy="337.5" r="2.4"/><circle cx="177.5" cy="335.0" r="2.4"/><circle cx="180.0" cy="342.5" r="2.4"/><circle cx="185.0" cy="338.8" r="2.4"/><circle cx="190.0" cy="343.1" r="2.4"/><circle cx="198.8" cy="343.1" r="2.4"/><circle cx="203.8" cy="338.8" r="2.4"/><circle cx="207.5" cy="335.0" r="2.4"/><circle cx="208.8" cy="331.2" r="2.4"/><circle cx="136.2" cy="326.2" r="2.4"/><circle cx="167.5" cy="331.2" r="2.4"/><circle cx="212.5" cy="327.5" r="2.4"/><circle cx="220.0" cy="330.0" r="2.4"/><circle cx="225.0" cy="331.2" r="2.4"/><circle cx="227.5" cy="335.0" r="2.4"/><circle cx="222.5" cy="336.2" r="2.4"/><circle cx="235.0" cy="333.8" r="2.4"/><circle cx="238.8" cy="338.8" r="2.4"/><circle cx="247.5" cy="340.6" r="2.4"/><circle cx="253.8" cy="338.1" r="2.4"/><circle cx="257.5" cy="342.5" r="2.4"/><circle cx="261.2" cy="336.2" r="2.4"/><circle cx="265.0" cy="332.5" r="2.4"/><circle cx="268.8" cy="335.0" r="2.4"/><circle cx="272.5" cy="332.5" r="2.4"/><circle cx="277.5" cy="332.5" r="2.4"/><circle cx="275.0" cy="341.2" r="2.4"/><circle cx="282.5" cy="326.2" r="2.4"/><circle cx="284.4" cy="338.8" r="2.4"/><circle cx="213.8" cy="340.0" r="2.4"/><circle cx="263.8" cy="326.2" r="2.4"/><circle cx="271.2" cy="326.2" r="2.4"/><circle cx="286.9" cy="320.0" r="2.4"/><circle cx="286.2" cy="325.0" r="2.4"/><circle cx="290.0" cy="318.8" r="2.4"/><circle cx="295.0" cy="317.5" r="2.4"/><circle cx="297.5" cy="322.5" r="2.4"/><circle cx="301.2" cy="317.5" r="2.4"/><circle cx="302.5" cy="322.5" r="2.4"/><circle cx="288.8" cy="325.0" r="2.4"/><circle cx="296.2" cy="332.5" r="2.4"/><circle cx="298.8" cy="331.2" r="2.4"/><circle cx="297.5" cy="337.5" r="2.4"/><circle cx="286.9" cy="338.8" r="2.4"/><circle cx="287.5" cy="332.5" r="2.4"/><circle cx="301.2" cy="343.8" r="2.4"/><circle cx="308.1" cy="321.9" r="2.4"/><circle cx="306.9" cy="326.2" r="2.4"/><circle cx="315.0" cy="315.6" r="2.4"/><circle cx="318.8" cy="320.0" r="2.4"/><circle cx="317.5" cy="323.8" r="2.4"/><circle cx="316.2" cy="327.5" r="2.4"/><circle cx="321.9" cy="326.9" r="2.4"/><circle cx="313.1" cy="338.1" r="2.4"/><circle cx="319.4" cy="336.2" r="2.4"/><circle cx="327.5" cy="323.8" r="2.4"/><circle cx="330.0" cy="321.2" r="2.4"/><circle cx="334.4" cy="323.1" r="2.4"/><circle cx="330.6" cy="328.8" r="2.4"/><circle cx="328.8" cy="326.2" r="2.4"/><circle cx="333.8" cy="316.9" r="2.4"/><circle cx="341.9" cy="314.4" r="2.4"/><circle cx="345.0" cy="312.5" r="2.4"/><circle cx="351.2" cy="316.9" r="2.4"/><circle cx="352.5" cy="318.8" r="2.4"/><circle cx="357.5" cy="319.4" r="2.4"/><circle cx="343.8" cy="321.2" r="2.4"/><circle cx="341.2" cy="328.1" r="2.4"/><circle cx="341.9" cy="325.6" r="2.4"/><circle cx="350.0" cy="328.8" r="2.4"/><circle cx="350.0" cy="333.8" r="2.4"/><circle cx="359.4" cy="339.4" r="2.4"/><circle cx="361.2" cy="313.8" r="2.4"/><circle cx="363.8" cy="316.2" r="2.4"/><circle cx="367.5" cy="315.6" r="2.4"/><circle cx="375.0" cy="313.8" r="2.4"/><circle cx="381.2" cy="311.9" r="2.4"/><circle cx="365.0" cy="321.9" r="2.4"/><circle cx="368.8" cy="325.0" r="2.4"/><circle cx="372.5" cy="320.0" r="2.4"/><circle cx="373.1" cy="328.1" r="2.4"/><circle cx="373.8" cy="331.9" r="2.4"/><circle cx="381.9" cy="320.6" r="2.4"/><circle cx="384.4" cy="326.9" r="2.4"/><circle cx="395.0" cy="317.5" r="2.4"/><circle cx="398.8" cy="318.1" r="2.4"/><circle cx="407.5" cy="309.4" r="2.4"/><circle cx="412.5" cy="318.8" r="2.4"/><circle cx="412.5" cy="322.5" r="2.4"/><circle cx="413.8" cy="307.5" r="2.4"/><circle cx="421.2" cy="308.8" r="2.4"/><circle cx="421.2" cy="313.8" r="2.4"/><circle cx="422.5" cy="318.1" r="2.4"/><circle cx="427.5" cy="321.2" r="2.4"/><circle cx="431.2" cy="310.6" r="2.4"/><circle cx="361.9" cy="339.4" r="2.4"/><circle cx="370.0" cy="338.8" r="2.4"/><circle cx="440.0" cy="300.6" r="2.4"/><circle cx="439.4" cy="305.6" r="2.4"/><circle cx="436.2" cy="311.2" r="2.4"/><circle cx="447.5" cy="304.4" r="2.4"/><circle cx="445.6" cy="309.4" r="2.4"/><circle cx="448.8" cy="308.8" r="2.4"/><circle cx="452.5" cy="302.5" r="2.4"/><circle cx="458.8" cy="302.5" r="2.4"/><circle cx="463.8" cy="304.4" r="2.4"/><circle cx="465.6" cy="309.0" r="2.4"/><circle cx="473.1" cy="298.8" r="2.4"/><circle cx="480.0" cy="300.0" r="2.4"/><circle cx="488.8" cy="296.9" r="2.4"/><circle cx="505.6" cy="293.8" r="2.4"/><circle cx="506.2" cy="296.9" r="2.4"/><circle cx="495.3" cy="280.3" r="2.4"/><circle cx="492.7" cy="283.0" r="2.4"/><circle cx="498.0" cy="284.3" r="2.4"/><circle cx="491.3" cy="288.3" r="2.4"/><circle cx="494.0" cy="291.0" r="2.4"/><circle cx="499.3" cy="288.3" r="2.4"/><circle cx="503.3" cy="284.3" r="2.4"/><circle cx="506.0" cy="288.3" r="2.4"/><circle cx="491.3" cy="293.7" r="2.4"/><circle cx="498.0" cy="292.3" r="2.4"/><circle cx="154.2" cy="336.7" r="2.4"/><circle cx="148.8" cy="351.2" r="2.4"/><circle cx="154.5" cy="351.2" r="2.4"/><circle cx="158.3" cy="336.7" r="2.4"/><circle cx="183.3" cy="344.2" r="2.4"/><circle cx="186.7" cy="343.3" r="2.4"/><circle cx="189.2" cy="340.0" r="2.4"/><circle cx="195.8" cy="342.5" r="2.4"/><circle cx="198.3" cy="336.7" r="2.4"/><circle cx="202.5" cy="344.2" r="2.4"/><circle cx="210.0" cy="346.7" r="2.4"/><circle cx="215.0" cy="342.5" r="2.4"/><circle cx="221.7" cy="338.3" r="2.4"/><circle cx="226.7" cy="340.0" r="2.4"/><circle cx="223.3" cy="345.8" r="2.4"/><circle cx="233.3" cy="336.7" r="2.4"/><circle cx="240.0" cy="336.7" r="2.4"/><circle cx="251.7" cy="346.7" r="2.4"/><circle cx="259.2" cy="340.0" r="2.4"/><circle cx="165.8" cy="350.8" r="2.4"/><circle cx="170.0" cy="355.8" r="2.4"/><circle cx="179.2" cy="355.0" r="2.4"/><circle cx="178.3" cy="349.2" r="2.4"/><circle cx="180.0" cy="347.5" r="2.4"/><circle cx="186.7" cy="350.0" r="2.4"/><circle cx="193.3" cy="352.5" r="2.4"/><circle cx="201.7" cy="351.7" r="2.4"/><circle cx="207.5" cy="356.7" r="2.4"/><circle cx="215.8" cy="355.8" r="2.4"/><circle cx="222.5" cy="354.2" r="2.4"/><circle cx="225.8" cy="355.0" r="2.4"/><circle cx="230.0" cy="355.8" r="2.4"/><circle cx="231.7" cy="353.3" r="2.4"/><circle cx="238.3" cy="349.2" r="2.4"/><circle cx="242.5" cy="348.3" r="2.4"/><circle cx="161.7" cy="357.5" r="2.4"/><circle cx="162.5" cy="361.7" r="2.4"/><circle cx="185.0" cy="357.5" r="2.4"/><circle cx="187.5" cy="360.0" r="2.4"/><circle cx="185.8" cy="362.5" r="2.4"/><circle cx="181.7" cy="364.2" r="2.4"/><circle cx="190.0" cy="365.8" r="2.4"/><circle cx="194.2" cy="359.2" r="2.4"/><circle cx="195.8" cy="361.7" r="2.4"/><circle cx="198.3" cy="366.7" r="2.4"/><circle cx="197.5" cy="375.8" r="2.4"/><circle cx="225.8" cy="375.0" r="2.4"/><circle cx="228.3" cy="380.0" r="2.4"/><circle cx="184.2" cy="383.3" r="2.4"/><circle cx="275.0" cy="335.8" r="2.4"/><circle cx="299.2" cy="335.8" r="2.4"/><circle cx="303.0" cy="349.7" r="2.4"/><circle cx="267.5" cy="350.0" r="2.4"/><circle cx="290.0" cy="349.7" r="2.4"/><circle cx="281.7" cy="355.8" r="2.4"/><circle cx="296.7" cy="355.0" r="2.4"/><circle cx="276.7" cy="361.7" r="2.4"/><circle cx="268.0" cy="363.3" r="2.4"/><circle cx="289.2" cy="367.0" r="2.4"/><circle cx="305.0" cy="366.2" r="2.4"/><circle cx="265.8" cy="370.5" r="2.4"/><circle cx="269.5" cy="379.7" r="2.4"/><circle cx="294.5" cy="389.7" r="2.4"/><circle cx="332.0" cy="388.3" r="2.4"/><circle cx="341.7" cy="349.2" r="2.4"/><circle cx="344.2" cy="353.3" r="2.4"/><circle cx="357.2" cy="352.8" r="2.4"/><circle cx="325.0" cy="349.2" r="2.4"/><circle cx="445.3" cy="337.8" r="2.4"/><circle cx="230.0" cy="427.8" r="2.4"/><circle cx="263.3" cy="396.2" r="2.4"/><circle cx="266.2" cy="405.5" r="2.4"/><circle cx="283.0" cy="411.2" r="2.4"/><circle cx="324.5" cy="409.5" r="2.4"/><circle cx="300.3" cy="443.3" r="2.4"/><circle cx="269.0" cy="227.0" r="2.4"/><circle cx="275.0" cy="229.0" r="2.4"/><circle cx="262.5" cy="230.5" r="2.4"/><circle cx="269.0" cy="237.0" r="2.4"/><circle cx="251.0" cy="244.0" r="2.4"/><circle cx="273.0" cy="247.0" r="2.4"/><circle cx="218.3" cy="250.0" r="2.4"/><circle cx="235.0" cy="249.2" r="2.4"/><circle cx="241.7" cy="246.7" r="2.4"/><circle cx="250.0" cy="241.7" r="2.4"/><circle cx="258.3" cy="250.0" r="2.4"/><circle cx="261.7" cy="246.7" r="2.4"/><circle cx="215.0" cy="253.3" r="2.4"/><circle cx="233.3" cy="255.0" r="2.4"/><circle cx="246.7" cy="255.0" r="2.4"/><circle cx="278.3" cy="253.3" r="2.4"/><circle cx="288.3" cy="255.0" r="2.4"/><circle cx="223.3" cy="240.0" r="2.4"/><circle cx="238.3" cy="241.7" r="2.4"/></g>
<g fill="#0000ff"><circle cx="79.4" cy="280.0" r="2.4"/><circle cx="83.8" cy="293.1" r="2.4"/><circle cx="97.5" cy="292.2" r="2.4"/><circle cx="104.4" cy="293.8" r="2.4"/><circle cx="132.5" cy="293.1" r="2.4"/><circle cx="95.0" cy="287.5" r="2.4"/><circle cx="91.2" cy="269.0" r="2.4"/><circle cx="100.0" cy="270.4" r="2.4"/><circle cx="109.4" cy="267.5" r="2.4"/><circle cx="116.2" cy="268.8" r="2.4"/><circle cx="123.8" cy="263.8" r="2.4"/><circle cx="140.0" cy="258.8" r="2.4"/><circle cx="152.5" cy="258.8" r="2.4"/><circle cx="155.6" cy="260.0" r="2.4"/><circle cx="151.2" cy="263.8" r="2.4"/><circle cx="165.0" cy="261.2" r="2.4"/><circle cx="170.6" cy="260.6" r="2.4"/><circle cx="176.9" cy="258.8" r="2.4"/><circle cx="183.1" cy="258.8" r="2.4"/><circle cx="183.8" cy="262.5" r="2.4"/><circle cx="202.5" cy="258.1" r="2.4"/><circle cx="207.5" cy="260.0" r="2.4"/><circle cx="142.5" cy="266.9" r="2.4"/><circle cx="145.0" cy="268.1" r="2.4"/><circle cx="155.0" cy="265.6" r="2.4"/><circle cx="158.1" cy="268.1" r="2.4"/><circle cx="166.2" cy="267.5" r="2.4"/><circle cx="172.5" cy="265.6" r="2.4"/><circle cx="176.2" cy="265.0" r="2.4"/><circle cx="181.9" cy="266.9" r="2.4"/><circle cx="190.0" cy="266.2" r="2.4"/><circle cx="193.8" cy="266.2" r="2.4"/><circle cx="198.8" cy="265.6" r="2.4"/><circle cx="202.5" cy="263.8" r="2.4"/><circle cx="206.2" cy="265.0" r="2.4"/><circle cx="209.4" cy="262.5" r="2.4"/><circle cx="137.5" cy="270.0" r="2.4"/><circle cx="141.2" cy="271.9" r="2.4"/><circle cx="147.5" cy="271.2" r="2.4"/><circle cx="151.2" cy="270.0" r="2.4"/><circle cx="156.2" cy="271.2" r="2.4"/><circle cx="161.2" cy="270.0" r="2.4"/><circle cx="165.0" cy="270.0" r="2.4"/><circle cx="170.0" cy="270.0" r="2.4"/><circle cx="172.5" cy="273.8" r="2.4"/><circle cx="178.8" cy="273.1" r="2.4"/><circle cx="181.2" cy="272.5" r="2.4"/><circle cx="190.0" cy="273.8" r="2.4"/><circle cx="194.4" cy="271.2" r="2.4"/><circle cx="198.8" cy="271.9" r="2.4"/><circle cx="206.2" cy="270.0" r="2.4"/><circle cx="208.8" cy="273.8" r="2.4"/><circle cx="136.2" cy="276.2" r="2.4"/><circle cx="140.0" cy="276.2" r="2.4"/><circle cx="145.0" cy="275.0" r="2.4"/><circle cx="148.8" cy="276.2" r="2.4"/><circle cx="153.8" cy="274.4" r="2.4"/><circle cx="157.5" cy="275.0" r="2.4"/><circle cx="163.8" cy="273.8" r="2.4"/><circle cx="168.8" cy="275.6" r="2.4"/><circle cx="180.0" cy="275.0" r="2.4"/><circle cx="187.5" cy="277.5" r="2.4"/><circle cx="191.2" cy="276.2" r="2.4"/><circle cx="197.5" cy="275.6" r="2.4"/><circle cx="201.2" cy="277.5" r="2.4"/><circle cx="206.2" cy="278.1" r="2.4"/><circle cx="140.0" cy="278.8" r="2.4"/><circle cx="152.5" cy="277.5" r="2.4"/><circle cx="163.8" cy="279.4" r="2.4"/><circle cx="168.1" cy="278.8" r="2.4"/><circle cx="154.4" cy="281.2" r="2.4"/><circle cx="197.5" cy="280.0" r="2.4"/><circle cx="198.8" cy="282.5" r="2.4"/><circle cx="138.8" cy="283.8" r="2.4"/><circle cx="142.5" cy="282.5" r="2.4"/><circle cx="146.9" cy="282.5" r="2.4"/><circle cx="143.1" cy="286.2" r="2.4"/><circle cx="171.9" cy="284.4" r="2.4"/><circle cx="171.9" cy="286.9" r="2.4"/><circle cx="211.2" cy="260.0" r="2.4"/><circle cx="211.9" cy="265.0" r="2.4"/><circle cx="220.6" cy="262.5" r="2.4"/><circle cx="222.5" cy="258.1" r="2.4"/><circle cx="231.2" cy="260.0" r="2.4"/><circle cx="231.9" cy="263.8" r="2.4"/><circle cx="238.1" cy="263.8" r="2.4"/><circle cx="241.2" cy="259.4" r="2.4"/><circle cx="245.0" cy="263.8" r="2.4"/><circle cx="250.0" cy="257.5" r="2.4"/><circle cx="251.2" cy="263.8" r="2.4"/><circle cx="256.2" cy="263.1" r="2.4"/><circle cx="260.0" cy="264.4" r="2.4"/><circle cx="267.5" cy="258.8" r="2.4"/><circle cx="270.0" cy="265.6" r="2.4"/><circle cx="278.8" cy="263.8" r="2.4"/><circle cx="282.5" cy="260.6" r="2.4"/><circle cx="283.8" cy="263.8" r="2.4"/><circle cx="212.5" cy="270.0" r="2.4"/><circle cx="215.0" cy="275.0" r="2.4"/><circle cx="213.8" cy="277.5" r="2.4"/><circle cx="221.9" cy="268.8" r="2.4"/><circle cx="226.2" cy="268.8" r="2.4"/><circle cx="228.1" cy="271.9" r="2.4"/><circle cx="224.4" cy="274.4" r="2.4"/><circle cx="221.2" cy="278.1" r="2.4"/><circle cx="232.5" cy="268.1" r="2.4"/><circle cx="235.0" cy="276.2" r="2.4"/><circle cx="238.8" cy="281.2" r="2.4"/><circle cx="238.8" cy="285.0" r="2.4"/><circle cx="228.8" cy="279.4" r="2.4"/><circle cx="222.5" cy="283.1" r="2.4"/><circle cx="243.1" cy="270.0" r="2.4"/><circle cx="246.2" cy="270.0" r="2.4"/><circle cx="243.8" cy="275.0" r="2.4"/><circle cx="250.0" cy="275.0" r="2.4"/><circle cx="252.5" cy="271.9" r="2.4"/><circle cx="255.0" cy="270.0" r="2.4"/><circle cx="254.4" cy="278.8" r="2.4"/><circle cx="258.8" cy="277.5" r="2.4"/><circle cx="261.2" cy="267.5" r="2.4"/><circle cx="265.0" cy="268.8" r="2.4"/><circle cx="263.8" cy="271.2" r="2.4"/><circle cx="267.5" cy="269.4" r="2.4"/><circle cx="266.2" cy="278.8" r="2.4"/><circle cx="263.8" cy="282.5" r="2.4"/><circle cx="271.2" cy="276.2" r="2.4"/><circle cx="275.0" cy="269.4" r="2.4"/><circle cx="276.9" cy="268.1" r="2.4"/><circle cx="275.0" cy="271.9" r="2.4"/><circle cx="281.2" cy="275.0" r="2.4"/><circle cx="273.8" cy="280.0" r="2.4"/><circle cx="272.5" cy="282.5" r="2.4"/><circle cx="278.8" cy="281.2" r="2.4"/><circle cx="280.0" cy="285.0" r="2.4"/><circle cx="244.4" cy="281.2" r="2.4"/><circle cx="228.1" cy="293.8" r="2.4"/><circle cx="269.4" cy="293.8" r="2.4"/><circle cx="300.6" cy="289.4" r="2.4"/><circle cx="306.9" cy="292.2" r="2.4"/><circle cx="311.2" cy="293.1" r="2.4"/><circle cx="321.2" cy="291.2" r="2.4"/><circle cx="329.4" cy="291.2" r="2.4"/><circle cx="348.8" cy="293.8" r="2.4"/><circle cx="358.8" cy="285.0" r="2.4"/><circle cx="358.8" cy="260.0" r="2.4"/><circle cx="297.5" cy="282.5" r="2.4"/><circle cx="292.5" cy="283.1" r="2.4"/><circle cx="297.5" cy="260.0" r="2.4"/><circle cx="308.8" cy="257.5" r="2.4"/><circle cx="315.0" cy="260.6" r="2.4"/><circle cx="335.0" cy="260.0" r="2.4"/><circle cx="340.0" cy="261.2" r="2.4"/><circle cx="375.0" cy="263.1" r="2.4"/><circle cx="375.0" cy="266.9" r="2.4"/><circle cx="378.8" cy="268.1" r="2.4"/><circle cx="381.9" cy="269.4" r="2.4"/><circle cx="363.1" cy="271.9" r="2.4"/><circle cx="367.5" cy="271.9" r="2.4"/><circle cx="374.4" cy="273.8" r="2.4"/><circle cx="378.8" cy="273.1" r="2.4"/><circle cx="386.9" cy="273.8" r="2.4"/><circle cx="385.0" cy="276.9" r="2.4"/><circle cx="395.6" cy="273.1" r="2.4"/><circle cx="403.1" cy="273.1" r="2.4"/><circle cx="407.5" cy="273.8" r="2.4"/><circle cx="411.9" cy="271.9" r="2.4"/><circle cx="398.8" cy="276.9" r="2.4"/><circle cx="401.9" cy="280.0" r="2.4"/><circle cx="405.0" cy="277.5" r="2.4"/><circle cx="390.0" cy="281.2" r="2.4"/><circle cx="378.8" cy="278.1" r="2.4"/><circle cx="378.8" cy="280.6" r="2.4"/><circle cx="382.5" cy="283.1" r="2.4"/><circle cx="361.2" cy="278.1" r="2.4"/><circle cx="365.0" cy="277.5" r="2.4"/><circle cx="368.1" cy="278.1" r="2.4"/><circle cx="371.2" cy="277.5" r="2.4"/><circle cx="361.2" cy="283.1" r="2.4"/><circle cx="361.2" cy="286.2" r="2.4"/><circle cx="427.5" cy="282.5" r="2.4"/><circle cx="434.4" cy="281.9" r="2.4"/><circle cx="370.6" cy="293.1" r="2.4"/><circle cx="381.9" cy="291.9" r="2.4"/><circle cx="385.6" cy="292.5" r="2.4"/><circle cx="400.0" cy="294.4" r="2.4"/><circle cx="440.2" cy="267.8" r="2.4"/><circle cx="449.6" cy="276.0" r="2.4"/><circle cx="450.6" cy="280.6" r="2.4"/><circle cx="464.0" cy="275.2" r="2.4"/><circle cx="477.2" cy="272.9" r="2.4"/><circle cx="481.0" cy="284.6" r="2.4"/><circle cx="479.6" cy="291.5" r="2.4"/><circle cx="485.2" cy="292.8" r="2.4"/><circle cx="495.2" cy="293.1" r="2.4"/><circle cx="82.5" cy="295.0" r="2.4"/><circle cx="98.1" cy="300.6" r="2.4"/><circle cx="100.0" cy="303.1" r="2.4"/><circle cx="103.8" cy="298.1" r="2.4"/><circle cx="110.0" cy="297.5" r="2.4"/><circle cx="111.2" cy="300.0" r="2.4"/><circle cx="115.0" cy="300.6" r="2.4"/><circle cx="120.0" cy="296.9" r="2.4"/><circle cx="123.8" cy="296.9" r="2.4"/><circle cx="129.4" cy="301.9" r="2.4"/><circle cx="122.5" cy="305.0" r="2.4"/><circle cx="126.2" cy="305.6" r="2.4"/><circle cx="111.2" cy="306.2" r="2.4"/><circle cx="115.6" cy="311.2" r="2.4"/><circle cx="124.4" cy="310.0" r="2.4"/><circle cx="134.4" cy="312.5" r="2.4"/><circle cx="120.4" cy="331.2" r="2.4"/><circle cx="138.8" cy="302.5" r="2.4"/><circle cx="145.0" cy="300.6" r="2.4"/><circle cx="149.4" cy="301.2" r="2.4"/><circle cx="153.5" cy="306.0" r="2.4"/><circle cx="158.1" cy="300.0" r="2.4"/><circle cx="162.5" cy="299.4" r="2.4"/><circle cx="165.6" cy="296.9" r="2.4"/><circle cx="172.5" cy="297.2" r="2.4"/><circle cx="172.5" cy="304.4" r="2.4"/><circle cx="173.8" cy="306.2" r="2.4"/><circle cx="171.2" cy="310.6" r="2.4"/><circle cx="158.8" cy="310.0" r="2.4"/><circle cx="181.9" cy="300.6" r="2.4"/><circle cx="188.8" cy="302.8" r="2.4"/><circle cx="193.1" cy="305.0" r="2.4"/><circle cx="196.9" cy="300.0" r="2.4"/><circle cx="202.5" cy="300.2" r="2.4"/><circle cx="201.2" cy="306.9" r="2.4"/><circle cx="209.4" cy="306.2" r="2.4"/><circle cx="140.0" cy="313.1" r="2.4"/><circle cx="138.1" cy="316.2" r="2.4"/><circle cx="151.2" cy="318.1" r="2.4"/><circle cx="163.1" cy="321.2" r="2.4"/><circle cx="166.9" cy="322.5" r="2.4"/><circle cx="173.8" cy="321.9" r="2.4"/><circle cx="178.1" cy="317.5" r="2.4"/><circle cx="180.6" cy="315.6" r="2.4"/><circle cx="183.8" cy="316.9" r="2.4"/><circle cx="200.0" cy="316.2" r="2.4"/><circle cx="205.0" cy="314.4" r="2.4"/><circle cx="208.1" cy="314.4" r="2.4"/><circle cx="198.8" cy="320.0" r="2.4"/><circle cx="202.5" cy="320.6" r="2.4"/><circle cx="200.0" cy="325.0" r="2.4"/><circle cx="143.1" cy="324.4" r="2.4"/><circle cx="142.5" cy="327.5" r="2.4"/><circle cx="143.8" cy="330.0" r="2.4"/><circle cx="148.1" cy="330.0" r="2.4"/><circle cx="157.5" cy="330.0" r="2.4"/><circle cx="159.4" cy="327.5" r="2.4"/><circle cx="178.8" cy="328.1" r="2.4"/><circle cx="188.8" cy="327.5" r="2.4"/><circle cx="196.2" cy="328.8" r="2.4"/><circle cx="204.4" cy="328.1" r="2.4"/><circle cx="205.0" cy="331.2" r="2.4"/><circle cx="218.1" cy="303.1" r="2.4"/><circle cx="220.0" cy="306.9" r="2.4"/><circle cx="220.6" cy="298.8" r="2.4"/><circle cx="224.4" cy="301.2" r="2.4"/><circle cx="228.8" cy="307.5" r="2.4"/><circle cx="233.1" cy="305.0" r="2.4"/><circle cx="232.5" cy="307.5" r="2.4"/><circle cx="240.0" cy="303.8" r="2.4"/><circle cx="243.1" cy="306.2" r="2.4"/><circle cx="246.2" cy="308.1" r="2.4"/><circle cx="250.6" cy="296.2" r="2.4"/><circle cx="253.1" cy="300.6" r="2.4"/><circle cx="251.2" cy="311.2" r="2.4"/><circle cx="255.0" cy="313.1" r="2.4"/><circle cx="259.4" cy="309.4" r="2.4"/><circle cx="260.6" cy="311.9" r="2.4"/><circle cx="260.6" cy="301.2" r="2.4"/><circle cx="268.8" cy="296.2" r="2.4"/><circle cx="276.2" cy="298.1" r="2.4"/><circle cx="278.1" cy="304.4" r="2.4"/><circle cx="282.5" cy="303.8" r="2.4"/><circle cx="270.0" cy="307.5" r="2.4"/><circle cx="272.5" cy="306.2" r="2.4"/><circle cx="280.0" cy="310.0" r="2.4"/><circle cx="273.8" cy="315.6" r="2.4"/><circle cx="276.2" cy="314.4" r="2.4"/><circle cx="282.5" cy="318.1" r="2.4"/><circle cx="275.0" cy="321.9" r="2.4"/><circle cx="285.0" cy="331.2" r="2.4"/><circle cx="218.8" cy="317.5" r="2.4"/><circle cx="222.5" cy="317.5" r="2.4"/><circle cx="225.0" cy="320.6" r="2.4"/><circle cx="213.8" cy="323.1" r="2.4"/><circle cx="212.5" cy="328.8" r="2.4"/><circle cx="241.2" cy="316.9" r="2.4"/><circle cx="244.4" cy="315.0" r="2.4"/><circle cx="251.9" cy="324.4" r="2.4"/><circle cx="255.0" cy="328.1" r="2.4"/><circle cx="259.4" cy="324.4" r="2.4"/><circle cx="233.1" cy="328.8" r="2.4"/><circle cx="291.9" cy="298.8" r="2.4"/><circle cx="298.1" cy="296.5" r="2.4"/><circle cx="299.4" cy="301.2" r="2.4"/><circle cx="304.4" cy="300.0" r="2.4"/><circle cx="303.8" cy="304.4" r="2.4"/><circle cx="306.2" cy="306.2" r="2.4"/><circle cx="310.6" cy="299.4" r="2.4"/><circle cx="314.4" cy="302.5" r="2.4"/><circle cx="316.9" cy="298.8" r="2.4"/><circle cx="320.6" cy="301.9" r="2.4"/><circle cx="323.1" cy="305.6" r="2.4"/><circle cx="325.0" cy="299.4" r="2.4"/><circle cx="328.8" cy="298.1" r="2.4"/><circle cx="331.9" cy="302.5" r="2.4"/><circle cx="337.5" cy="297.5" r="2.4"/><circle cx="343.1" cy="300.6" r="2.4"/><circle cx="348.1" cy="304.8" r="2.4"/><circle cx="350.0" cy="309.4" r="2.4"/><circle cx="337.5" cy="307.5" r="2.4"/><circle cx="340.0" cy="308.8" r="2.4"/><circle cx="335.0" cy="311.2" r="2.4"/><circle cx="323.8" cy="312.5" r="2.4"/><circle cx="325.0" cy="316.2" r="2.4"/><circle cx="286.9" cy="306.9" r="2.4"/><circle cx="295.0" cy="312.5" r="2.4"/><circle cx="300.0" cy="308.8" r="2.4"/><circle cx="300.6" cy="305.6" r="2.4"/><circle cx="305.6" cy="314.4" r="2.4"/><circle cx="311.2" cy="308.8" r="2.4"/><circle cx="352.5" cy="297.5" r="2.4"/><circle cx="358.1" cy="296.9" r="2.4"/><circle cx="346.2" cy="320.0" r="2.4"/><circle cx="347.5" cy="325.0" r="2.4"/><circle cx="353.8" cy="323.8" r="2.4"/><circle cx="326.2" cy="330.6" r="2.4"/><circle cx="293.8" cy="325.0" r="2.4"/><circle cx="303.8" cy="326.2" r="2.4"/><circle cx="309.4" cy="326.9" r="2.4"/><circle cx="360.6" cy="298.8" r="2.4"/><circle cx="365.6" cy="296.9" r="2.4"/><circle cx="370.6" cy="296.5" r="2.4"/><circle cx="385.0" cy="300.0" r="2.4"/><circle cx="361.2" cy="307.5" r="2.4"/><circle cx="368.1" cy="306.9" r="2.4"/><circle cx="372.5" cy="307.1" r="2.4"/><circle cx="378.1" cy="307.1" r="2.4"/><circle cx="381.2" cy="305.0" r="2.4"/><circle cx="392.5" cy="304.4" r="2.4"/><circle cx="398.1" cy="305.0" r="2.4"/><circle cx="399.4" cy="309.4" r="2.4"/><circle cx="404.4" cy="302.5" r="2.4"/><circle cx="414.4" cy="296.9" r="2.4"/><circle cx="420.0" cy="302.5" r="2.4"/><circle cx="419.4" cy="305.0" r="2.4"/><circle cx="425.6" cy="297.5" r="2.4"/><circle cx="425.6" cy="306.9" r="2.4"/><circle cx="371.2" cy="313.8" r="2.4"/><circle cx="387.5" cy="313.1" r="2.4"/><circle cx="375.6" cy="321.9" r="2.4"/><circle cx="432.9" cy="319.6" r="2.4"/><circle cx="457.2" cy="299.6" r="2.4"/><circle cx="460.6" cy="300.0" r="2.4"/><circle cx="123.9" cy="264.3" r="2.4"/><circle cx="127.8" cy="262.7" r="2.4"/><circle cx="120.6" cy="266.6" r="2.4"/><circle cx="125.5" cy="266.0" r="2.4"/><circle cx="129.9" cy="266.4" r="2.4"/><circle cx="133.1" cy="267.2" r="2.4"/><circle cx="91.6" cy="269.9" r="2.4"/><circle cx="94.4" cy="269.6" r="2.4"/><circle cx="99.6" cy="271.2" r="2.4"/><circle cx="107.7" cy="271.3" r="2.4"/><circle cx="111.5" cy="270.6" r="2.4"/><circle cx="113.9" cy="270.0" r="2.4"/><circle cx="118.5" cy="271.3" r="2.4"/><circle cx="123.7" cy="271.2" r="2.4"/><circle cx="127.0" cy="270.5" r="2.4"/><circle cx="130.9" cy="270.1" r="2.4"/><circle cx="136.0" cy="270.0" r="2.4"/><circle cx="87.7" cy="273.6" r="2.4"/><circle cx="93.5" cy="275.2" r="2.4"/><circle cx="96.5" cy="275.1" r="2.4"/><circle cx="100.2" cy="275.1" r="2.4"/><circle cx="105.3" cy="274.5" r="2.4"/><circle cx="113.7" cy="274.6" r="2.4"/><circle cx="116.7" cy="274.7" r="2.4"/><circle cx="120.4" cy="273.5" r="2.4"/><circle cx="123.9" cy="275.1" r="2.4"/><circle cx="127.7" cy="273.2" r="2.4"/><circle cx="90.0" cy="276.5" r="2.4"/><circle cx="95.3" cy="277.9" r="2.4"/><circle cx="99.4" cy="276.6" r="2.4"/><circle cx="102.5" cy="278.4" r="2.4"/><circle cx="107.8" cy="276.6" r="2.4"/><circle cx="111.9" cy="278.7" r="2.4"/><circle cx="114.2" cy="276.7" r="2.4"/><circle cx="119.7" cy="278.4" r="2.4"/><circle cx="123.7" cy="277.9" r="2.4"/><circle cx="125.9" cy="276.6" r="2.4"/><circle cx="130.2" cy="277.2" r="2.4"/><circle cx="133.7" cy="277.0" r="2.4"/><circle cx="89.4" cy="280.8" r="2.4"/><circle cx="94.0" cy="281.1" r="2.4"/><circle cx="97.2" cy="279.9" r="2.4"/><circle cx="100.7" cy="281.7" r="2.4"/><circle cx="105.4" cy="281.2" r="2.4"/><circle cx="109.7" cy="280.1" r="2.4"/><circle cx="112.1" cy="279.9" r="2.4"/><circle cx="117.5" cy="282.2" r="2.4"/><circle cx="120.9" cy="281.0" r="2.4"/><circle cx="124.1" cy="281.1" r="2.4"/><circle cx="129.7" cy="280.5" r="2.4"/><circle cx="90.2" cy="285.0" r="2.4"/><circle cx="93.9" cy="284.9" r="2.4"/><circle cx="99.6" cy="285.0" r="2.4"/><circle cx="103.2" cy="284.2" r="2.4"/><circle cx="106.6" cy="285.5" r="2.4"/><circle cx="111.8" cy="283.4" r="2.4"/><circle cx="114.3" cy="285.5" r="2.4"/><circle cx="118.6" cy="285.5" r="2.4"/><circle cx="122.8" cy="284.6" r="2.4"/><circle cx="127.5" cy="284.9" r="2.4"/><circle cx="130.5" cy="283.7" r="2.4"/><circle cx="135.3" cy="285.1" r="2.4"/><circle cx="294.9" cy="261.6" r="2.4"/><circle cx="298.1" cy="260.9" r="2.4"/><circle cx="306.3" cy="260.5" r="2.4"/><circle cx="311.8" cy="260.1" r="2.4"/><circle cx="314.4" cy="260.5" r="2.4"/><circle cx="334.2" cy="260.6" r="2.4"/><circle cx="340.1" cy="261.5" r="2.4"/><circle cx="286.1" cy="263.5" r="2.4"/><circle cx="290.2" cy="265.1" r="2.4"/><circle cx="296.3" cy="264.8" r="2.4"/><circle cx="300.3" cy="264.2" r="2.4"/><circle cx="304.8" cy="265.1" r="2.4"/><circle cx="309.0" cy="264.7" r="2.4"/><circle cx="312.1" cy="264.7" r="2.4"/><circle cx="317.6" cy="265.4" r="2.4"/><circle cx="321.2" cy="265.0" r="2.4"/><circle cx="324.3" cy="265.0" r="2.4"/><circle cx="337.8" cy="264.9" r="2.4"/><circle cx="340.9" cy="264.0" r="2.4"/><circle cx="344.0" cy="264.2" r="2.4"/><circle cx="291.3" cy="267.3" r="2.4"/><circle cx="294.9" cy="268.2" r="2.4"/><circle cx="299.4" cy="268.9" r="2.4"/><circle cx="303.4" cy="268.6" r="2.4"/><circle cx="307.0" cy="269.0" r="2.4"/><circle cx="311.1" cy="267.1" r="2.4"/><circle cx="322.0" cy="268.1" r="2.4"/><circle cx="327.5" cy="267.9" r="2.4"/><circle cx="331.8" cy="267.9" r="2.4"/><circle cx="336.1" cy="267.2" r="2.4"/><circle cx="338.7" cy="268.5" r="2.4"/><circle cx="344.2" cy="267.5" r="2.4"/><circle cx="346.5" cy="267.7" r="2.4"/><circle cx="350.8" cy="267.7" r="2.4"/><circle cx="354.6" cy="267.3" r="2.4"/><circle cx="359.6" cy="268.9" r="2.4"/><circle cx="284.3" cy="272.1" r="2.4"/><circle cx="288.3" cy="270.5" r="2.4"/><circle cx="300.9" cy="271.5" r="2.4"/><circle cx="306.1" cy="271.0" r="2.4"/><circle cx="309.8" cy="272.1" r="2.4"/><circle cx="312.5" cy="271.5" r="2.4"/><circle cx="317.8" cy="271.0" r="2.4"/><circle cx="324.7" cy="270.8" r="2.4"/><circle cx="328.2" cy="270.2" r="2.4"/><circle cx="336.4" cy="270.9" r="2.4"/><circle cx="340.8" cy="271.7" r="2.4"/><circle cx="344.7" cy="272.4" r="2.4"/><circle cx="353.8" cy="272.3" r="2.4"/><circle cx="287.8" cy="275.1" r="2.4"/><circle cx="289.8" cy="275.9" r="2.4"/><circle cx="294.4" cy="273.9" r="2.4"/><circle cx="298.4" cy="275.5" r="2.4"/><circle cx="302.2" cy="275.8" r="2.4"/><circle cx="311.9" cy="275.1" r="2.4"/><circle cx="319.9" cy="275.5" r="2.4"/><circle cx="327.5" cy="274.9" r="2.4"/><circle cx="335.9" cy="275.0" r="2.4"/><circle cx="338.4" cy="274.0" r="2.4"/><circle cx="341.9" cy="274.7" r="2.4"/><circle cx="347.0" cy="274.8" r="2.4"/><circle cx="351.9" cy="273.6" r="2.4"/><circle cx="359.2" cy="275.2" r="2.4"/><circle cx="288.8" cy="279.4" r="2.4"/><circle cx="293.3" cy="278.6" r="2.4"/><circle cx="297.3" cy="278.7" r="2.4"/><circle cx="306.2" cy="278.3" r="2.4"/><circle cx="310.0" cy="277.2" r="2.4"/><circle cx="313.3" cy="277.9" r="2.4"/><circle cx="320.9" cy="278.3" r="2.4"/><circle cx="328.8" cy="278.1" r="2.4"/><circle cx="333.8" cy="277.8" r="2.4"/><circle cx="341.0" cy="277.7" r="2.4"/><circle cx="346.1" cy="278.7" r="2.4"/><circle cx="352.6" cy="277.8" r="2.4"/><circle cx="357.3" cy="279.0" r="2.4"/><circle cx="295.5" cy="282.7" r="2.4"/><circle cx="297.9" cy="281.3" r="2.4"/><circle cx="302.3" cy="282.8" r="2.4"/><circle cx="307.4" cy="282.4" r="2.4"/><circle cx="315.3" cy="282.1" r="2.4"/><circle cx="319.2" cy="282.2" r="2.4"/><circle cx="323.4" cy="281.6" r="2.4"/><circle cx="330.2" cy="280.6" r="2.4"/><circle cx="342.7" cy="282.5" r="2.4"/><circle cx="350.4" cy="281.3" r="2.4"/><circle cx="358.6" cy="281.6" r="2.4"/></g>
<g fill="#ff0000" stroke="#80106a" stroke-width="0.5"><circle cx="259.5" cy="116.8" r="2.15"/><circle cx="365.8" cy="156.3" r="2.15"/><circle cx="168.7" cy="185.5" r="2.15"/><circle cx="197.5" cy="197.5" r="2.15"/><circle cx="202.5" cy="164.5" r="2.15"/><circle cx="248.3" cy="181.2" r="2.15"/><circle cx="270.7" cy="182.2" r="2.15"/><circle cx="277.0" cy="177.2" r="2.15"/><circle cx="201.7" cy="192.8" r="2.15"/><circle cx="235.5" cy="199.5" r="2.15"/><circle cx="231.7" cy="200.0" r="2.15"/><circle cx="282.5" cy="199.7" r="2.15"/><circle cx="280.5" cy="220.3" r="2.15"/><circle cx="290.3" cy="220.3" r="2.15"/><circle cx="306.2" cy="238.3" r="2.15"/><circle cx="294.7" cy="241.3" r="2.15"/><circle cx="288.7" cy="244.7" r="2.15"/><circle cx="141.7" cy="228.8" r="2.15"/><circle cx="159.2" cy="235.8" r="2.15"/><circle cx="130.0" cy="246.5" r="2.15"/><circle cx="141.7" cy="246.2" r="2.15"/><circle cx="147.9" cy="249.6" r="2.15"/><circle cx="222.2" cy="205.5" r="2.15"/><circle cx="248.8" cy="214.7" r="2.15"/><circle cx="225.8" cy="222.0" r="2.15"/><circle cx="228.0" cy="227.0" r="2.15"/><circle cx="235.5" cy="230.5" r="2.15"/><circle cx="242.0" cy="228.8" r="2.15"/><circle cx="218.7" cy="237.0" r="2.15"/><circle cx="222.5" cy="238.3" r="2.15"/><circle cx="238.3" cy="238.3" r="2.15"/><circle cx="161.3" cy="239.2" r="2.15"/><circle cx="200.0" cy="241.3" r="2.15"/><circle cx="196.7" cy="243.7" r="2.15"/><circle cx="174.2" cy="243.0" r="2.15"/><circle cx="178.3" cy="245.3" r="2.15"/><circle cx="213.3" cy="243.0" r="2.15"/><circle cx="163.0" cy="246.7" r="2.15"/><circle cx="194.2" cy="247.0" r="2.15"/><circle cx="224.2" cy="248.3" r="2.15"/><circle cx="131.9" cy="256.6" r="2.15"/><circle cx="138.1" cy="254.8" r="2.15"/><circle cx="141.9" cy="253.8" r="2.15"/><circle cx="157.1" cy="251.9" r="2.15"/><circle cx="165.0" cy="255.6" r="2.15"/><circle cx="169.8" cy="251.9" r="2.15"/><circle cx="177.5" cy="248.8" r="2.15"/><circle cx="178.8" cy="251.2" r="2.15"/><circle cx="185.0" cy="251.9" r="2.15"/><circle cx="191.9" cy="254.4" r="2.15"/><circle cx="200.6" cy="248.8" r="2.15"/><circle cx="205.6" cy="250.6" r="2.15"/><circle cx="205.0" cy="256.2" r="2.15"/><circle cx="208.8" cy="253.8" r="2.15"/><circle cx="212.8" cy="249.8" r="2.15"/><circle cx="227.5" cy="251.5" r="2.15"/><circle cx="221.0" cy="256.2" r="2.15"/><circle cx="228.8" cy="257.1" r="2.15"/><circle cx="238.8" cy="252.1" r="2.15"/><circle cx="240.6" cy="256.5" r="2.15"/><circle cx="253.8" cy="253.8" r="2.15"/><circle cx="260.6" cy="256.2" r="2.15"/><circle cx="265.6" cy="251.9" r="2.15"/><circle cx="266.9" cy="246.2" r="2.15"/><circle cx="265.6" cy="256.6" r="2.15"/><circle cx="269.4" cy="256.9" r="2.15"/><circle cx="271.2" cy="253.1" r="2.15"/><circle cx="273.8" cy="250.2" r="2.15"/><circle cx="283.1" cy="248.1" r="2.15"/><circle cx="282.5" cy="256.9" r="2.15"/><circle cx="290.2" cy="257.1" r="2.15"/><circle cx="303.1" cy="256.6" r="2.15"/><circle cx="313.1" cy="253.8" r="2.15"/><circle cx="322.2" cy="248.1" r="2.15"/><circle cx="334.0" cy="249.8" r="2.15"/><circle cx="333.1" cy="257.1" r="2.15"/><circle cx="151.0" cy="334.0" r="2.15"/><circle cx="147.1" cy="344.0" r="2.15"/><circle cx="152.5" cy="343.1" r="2.15"/><circle cx="155.6" cy="341.9" r="2.15"/><circle cx="157.5" cy="343.1" r="2.15"/><circle cx="163.8" cy="342.5" r="2.15"/><circle cx="185.0" cy="331.9" r="2.15"/><circle cx="187.5" cy="333.1" r="2.15"/><circle cx="192.5" cy="333.1" r="2.15"/><circle cx="196.5" cy="332.1" r="2.15"/><circle cx="195.0" cy="338.8" r="2.15"/><circle cx="214.4" cy="334.8" r="2.15"/><circle cx="215.6" cy="338.1" r="2.15"/><circle cx="223.5" cy="341.9" r="2.15"/><circle cx="231.9" cy="332.5" r="2.15"/><circle cx="233.1" cy="335.0" r="2.15"/><circle cx="230.6" cy="337.5" r="2.15"/><circle cx="231.9" cy="343.1" r="2.15"/><circle cx="241.9" cy="335.6" r="2.15"/><circle cx="251.9" cy="332.1" r="2.15"/><circle cx="259.4" cy="338.1" r="2.15"/><circle cx="270.6" cy="334.0" r="2.15"/><circle cx="217.5" cy="344.8" r="2.15"/><circle cx="293.5" cy="342.5" r="2.15"/><circle cx="304.8" cy="340.0" r="2.15"/><circle cx="306.2" cy="343.1" r="2.15"/><circle cx="326.0" cy="339.6" r="2.15"/><circle cx="347.5" cy="338.5" r="2.15"/><circle cx="349.8" cy="331.9" r="2.15"/><circle cx="418.8" cy="335.6" r="2.15"/><circle cx="158.7" cy="350.8" r="2.15"/><circle cx="157.2" cy="357.0" r="2.15"/><circle cx="134.8" cy="363.3" r="2.15"/><circle cx="128.8" cy="372.5" r="2.15"/><circle cx="175.8" cy="352.5" r="2.15"/><circle cx="222.5" cy="347.0" r="2.15"/><circle cx="230.0" cy="345.0" r="2.15"/><circle cx="212.5" cy="352.0" r="2.15"/><circle cx="237.5" cy="352.5" r="2.15"/><circle cx="160.8" cy="351.7" r="2.15"/><circle cx="203.7" cy="356.7" r="2.15"/><circle cx="201.7" cy="363.3" r="2.15"/><circle cx="163.3" cy="367.0" r="2.15"/><circle cx="184.2" cy="366.7" r="2.15"/><circle cx="183.7" cy="370.8" r="2.15"/><circle cx="197.0" cy="370.5" r="2.15"/><circle cx="203.0" cy="372.5" r="2.15"/><circle cx="203.0" cy="375.0" r="2.15"/><circle cx="208.3" cy="373.0" r="2.15"/><circle cx="209.2" cy="375.8" r="2.15"/><circle cx="196.2" cy="379.5" r="2.15"/><circle cx="220.5" cy="369.5" r="2.15"/><circle cx="231.3" cy="367.5" r="2.15"/><circle cx="244.5" cy="366.2" r="2.15"/><circle cx="225.8" cy="382.8" r="2.15"/><circle cx="235.5" cy="382.5" r="2.15"/><circle cx="223.0" cy="387.0" r="2.15"/><circle cx="219.2" cy="389.7" r="2.15"/><circle cx="230.5" cy="389.5" r="2.15"/><circle cx="227.5" cy="393.7" r="2.15"/><circle cx="233.3" cy="394.2" r="2.15"/><circle cx="245.0" cy="393.3" r="2.15"/><circle cx="262.8" cy="347.5" r="2.15"/><circle cx="287.5" cy="347.8" r="2.15"/><circle cx="307.5" cy="345.8" r="2.15"/><circle cx="326.7" cy="349.2" r="2.15"/><circle cx="295.0" cy="363.7" r="2.15"/><circle cx="264.2" cy="390.5" r="2.15"/><circle cx="270.3" cy="393.3" r="2.15"/><circle cx="159.5" cy="399.2" r="2.15"/><circle cx="162.5" cy="396.3" r="2.15"/><circle cx="168.3" cy="397.2" r="2.15"/><circle cx="198.3" cy="397.0" r="2.15"/><circle cx="193.3" cy="407.2" r="2.15"/><circle cx="217.0" cy="402.5" r="2.15"/><circle cx="215.8" cy="405.8" r="2.15"/><circle cx="230.8" cy="398.3" r="2.15"/><circle cx="199.7" cy="445.8" r="2.15"/><circle cx="309.2" cy="402.2" r="2.15"/><circle cx="254.2" cy="413.0" r="2.15"/><circle cx="281.0" cy="418.5" r="2.15"/><circle cx="247.8" cy="449.2" r="2.15"/><circle cx="251.2" cy="468.3" r="2.15"/><circle cx="254.7" cy="483.0" r="2.15"/><circle cx="283.3" cy="452.2" r="2.15"/><circle cx="279.2" cy="459.5" r="2.15"/><circle cx="272.2" cy="204.7" r="2.15"/><circle cx="268.3" cy="220.3" r="2.15"/><circle cx="261.5" cy="232.5" r="2.15"/><circle cx="262.8" cy="239.0" r="2.15"/><circle cx="264.5" cy="241.5" r="2.15"/><circle cx="273.7" cy="241.8" r="2.15"/></g>
<line x1="59.04" y1="151.20" x2="569.76" y2="151.20" stroke="#0000ff" stroke-width="0.75"/>
<line x1="59.04" y1="427.24" x2="569.76" y2="427.24" stroke="#0000ff" stroke-width="0.75"/>
<rect x="59.04" y="102.24" width="510.71999999999997" height="395.52" fill="none" stroke="#000" stroke-width="0.75" stroke-linecap="round"/>
<line x1="59.04" y1="151.20" x2="59.04" y2="496.25" stroke="#000" stroke-width="0.75" stroke-linecap="round"/>
<line x1="88.40" y1="497.76" x2="481.70" y2="497.76" stroke="#000" stroke-width="0.75" stroke-linecap="round"/>
<line x1="51.84" y1="151.20" x2="59.04" y2="151.20" stroke="#000" stroke-width="0.75" stroke-linecap="round"/>
<text x="33.35 40.35 43.35" y="151.20" font-size="11.3" transform="rotate(-90 41.85 151.20)">1.0</text>
<line x1="51.84" y1="220.21" x2="59.04" y2="220.21" stroke="#000" stroke-width="0.75" stroke-linecap="round"/>
<text x="33.35 40.35 43.35" y="220.21" font-size="11.3" transform="rotate(-90 41.85 220.21)">0.5</text>
<line x1="51.84" y1="289.22" x2="59.04" y2="289.22" stroke="#000" stroke-width="0.75" stroke-linecap="round"/>
<text x="33.35 40.35 43.35" y="289.22" font-size="11.3" transform="rotate(-90 41.85 289.22)">0.0</text>
<line x1="51.84" y1="358.23" x2="59.04" y2="358.23" stroke="#000" stroke-width="0.75" stroke-linecap="round"/>
<text x="31.35 35.35 42.35 45.35" y="358.23" font-size="11.3" transform="rotate(-90 41.85 358.23)">-0.5</text>
<line x1="51.84" y1="427.24" x2="59.04" y2="427.24" stroke="#000" stroke-width="0.75" stroke-linecap="round"/>
<text x="31.35 35.35 42.35 45.35" y="427.24" font-size="11.3" transform="rotate(-90 41.85 427.24)">-1.0</text>
<line x1="51.84" y1="496.25" x2="59.04" y2="496.25" stroke="#000" stroke-width="0.75" stroke-linecap="round"/>
<text x="31.35 35.35 42.35 45.35" y="496.25" font-size="11.3" transform="rotate(-90 41.85 496.25)">-1.5</text>
<line x1="88.40" y1="497.76" x2="88.40" y2="504.96" stroke="#000" stroke-width="0.75" stroke-linecap="round"/>
<text x="79.90 86.90 89.90" y="523.70" font-size="11.3">0.5</text>
<line x1="219.50" y1="497.76" x2="219.50" y2="504.96" stroke="#000" stroke-width="0.75" stroke-linecap="round"/>
<text x="211.00 218.00 221.00" y="523.70" font-size="11.3">1.0</text>
<line x1="350.60" y1="497.76" x2="350.60" y2="504.96" stroke="#000" stroke-width="0.75" stroke-linecap="round"/>
<text x="342.10 349.10 352.10" y="523.70" font-size="11.3">1.5</text>
<line x1="481.70" y1="497.76" x2="481.70" y2="504.96" stroke="#000" stroke-width="0.75" stroke-linecap="round"/>
<text x="473.20 480.20 483.20" y="523.70" font-size="11.3">2.0</text>
<text x="191.50 200.50 209.50 213.50 222.50 226.50 234.50 243.50 251.50 260.50 269.50 277.50 281.50 289.50 297.50 301.50 309.50 317.50 325.50 330.50 338.50 347.50 355.50 359.50 367.50 376.50 385.50 394.50 403.50 411.50 420.50 428.50" y="78.30" font-size="14.6" font-weight="bold">Fold change vs average abundance</text>
<text x="284.90 287.90 294.90 301.90 308.90 316.90 319.90 326.90 333.90 340.90" y="551.75" font-size="12">log2Signal</text>
<text x="-7.20 -4.20 2.80 9.80 16.80 23.80" y="299.50" font-size="12" transform="rotate(-90 12.80 299.50)">log2FC</text>
</svg></body></html>
